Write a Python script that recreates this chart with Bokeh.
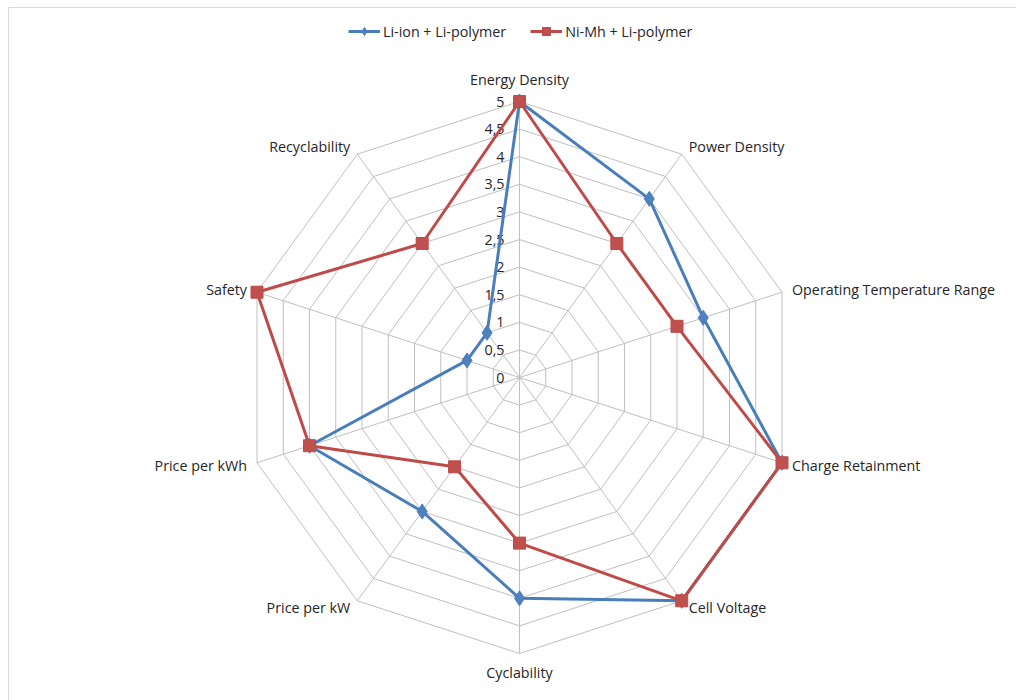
import numpy as np
from bokeh.plotting import figure
from bokeh.models import Range1d, Legend, LegendItem, ColumnDataSource
from bokeh.core.properties import value
from bokeh.embed import file_html
from bokeh.resources import INLINE

categories = ["Energy Density", "Power Density", "Operating Temperature Range",
              "Charge Retainment", "Cell Voltage", "Cyclability", "Price per kW",
              "Price per kWh", "Safety", "Recyclability"]
li_ion = [5, 4, 3.5, 5, 5, 4, 3, 4, 1, 1]
ni_mh = [5, 3, 3, 5, 5, 3, 2, 4, 5, 3]
tick_values = [0, 0.5, 1, 1.5, 2, 2.5, 3, 3.5, 4, 4.5, 5]
tick_labels = ["0", "0,5", "1", "1,5", "2", "2,5", "3", "3,5", "4", "4,5", "5"]
series_names = ["Li-ion + Li-polymer", "Ni-Mh + Li-polymer"]

FONT = "Open Sans"
FS = "14.3px"
TXT = "#262626"
W, H = 1016, 700
CX, CY = 519, 377       # pixel centre
S = 55.2                # pixels per unit
rmax = 5

p = figure(width=W, height=H, output_backend="svg", toolbar_location=None,
           x_range=Range1d(-CX / S, (W - CX) / S), y_range=Range1d(-(H - CY) / S, CY / S),
           min_border=0, min_border_left=0, min_border_right=0,
           min_border_top=0, min_border_bottom=0)
p.axis.visible = False
p.xgrid.visible = False
p.ygrid.visible = False
p.outline_line_color = None
p.background_fill_color = "white"
p.border_fill_color = "white"

px = 1.0 / S
# chart area frame (extends past the window on right/bottom)
p.quad(left=[-CX / S + 8 * px], right=[(W - CX) / S + 10 * px],
       top=[CY / S - 7 * px], bottom=[-(H - CY) / S - 10 * px],
       fill_color=None, line_color="#d9d9d9", line_width=1)

n = len(categories)
ang = np.pi / 2 - 2 * np.pi * np.arange(n) / n
cosA, sinA = np.cos(ang), np.sin(ang)

# rings
for t in tick_values[1:]:
    xs = list(t * cosA) + [t * cosA[0]]
    ys = list(t * sinA) + [t * sinA[0]]
    p.line(xs, ys, line_color="#bfbfbf", line_width=1)
# spokes
p.segment(x0=[0] * n, y0=[0] * n, x1=list(rmax * cosA), y1=list(rmax * sinA),
          line_color="#bfbfbf", line_width=1)

# tick labels on the vertical axis
p.text(x=[-15 * px] * len(tick_values), y=tick_values, text=tick_labels,
       text_align="right", text_baseline="middle", text_font=value(FONT),
       text_font_size=FS, text_color=TXT)

# category labels
lx, ly, la = [], [], []
for c, s in zip(cosA, sinA):
    vx, vy = rmax * c, rmax * s
    if abs(c) < 0.01:
        lx.append(vx)
        ly.append(vy + (22 if s > 0 else -19) * px)
        la.append("center")
    else:
        off = 7 if abs(s) > 0.5 else 10
        lx.append(vx + np.sign(c) * off * px)
        ly.append(vy + (10 * s if s > 0 else 8 * s) * px)
        la.append("left" if c > 0 else "right")
src = ColumnDataSource(dict(x=lx, y=ly, t=categories, a=la))
p.text(x="x", y="y", text="t", text_align="a", text_baseline="middle",
       text_font=value(FONT), text_font_size=FS, text_color=TXT, source=src)

# series
def closed(vals, arr):
    v = np.array(vals, dtype=float)
    return list(v * arr) + [v[0] * arr[0]]

blue_line, blue_fill = "#4a7ebb", "#4f81bd"
red_line, red_fill = "#be4b48", "#c0504d"

r1l = p.line(closed(li_ion, cosA), closed(li_ion, sinA), line_color=blue_line, line_width=3)
r1m = p.scatter(list(np.array(li_ion) * cosA), list(np.array(li_ion) * sinA), marker="diamond",
                size=15, fill_color=blue_fill, line_color=blue_line)
r2l = p.line(closed(ni_mh, cosA), closed(ni_mh, sinA), line_color=red_line, line_width=3)
r2m = p.scatter(list(np.array(ni_mh) * cosA), list(np.array(ni_mh) * sinA), marker="square",
                size=12, fill_color=red_fill, line_color=red_line)

legend = Legend(items=[LegendItem(label=series_names[0], renderers=[r1l, r1m]),
                       LegendItem(label=series_names[1], renderers=[r2l, r2m])],
                orientation="horizontal", location=(348, H - 41),
                glyph_width=32, glyph_height=20, label_standoff=3, spacing=24,
                padding=0, margin=0, border_line_color=None, background_fill_alpha=0,
                label_text_font=FONT, label_text_font_size=FS, label_text_color=TXT)
p.add_layout(legend, "center")

open("out.html", "w").write(file_html(p, INLINE))
